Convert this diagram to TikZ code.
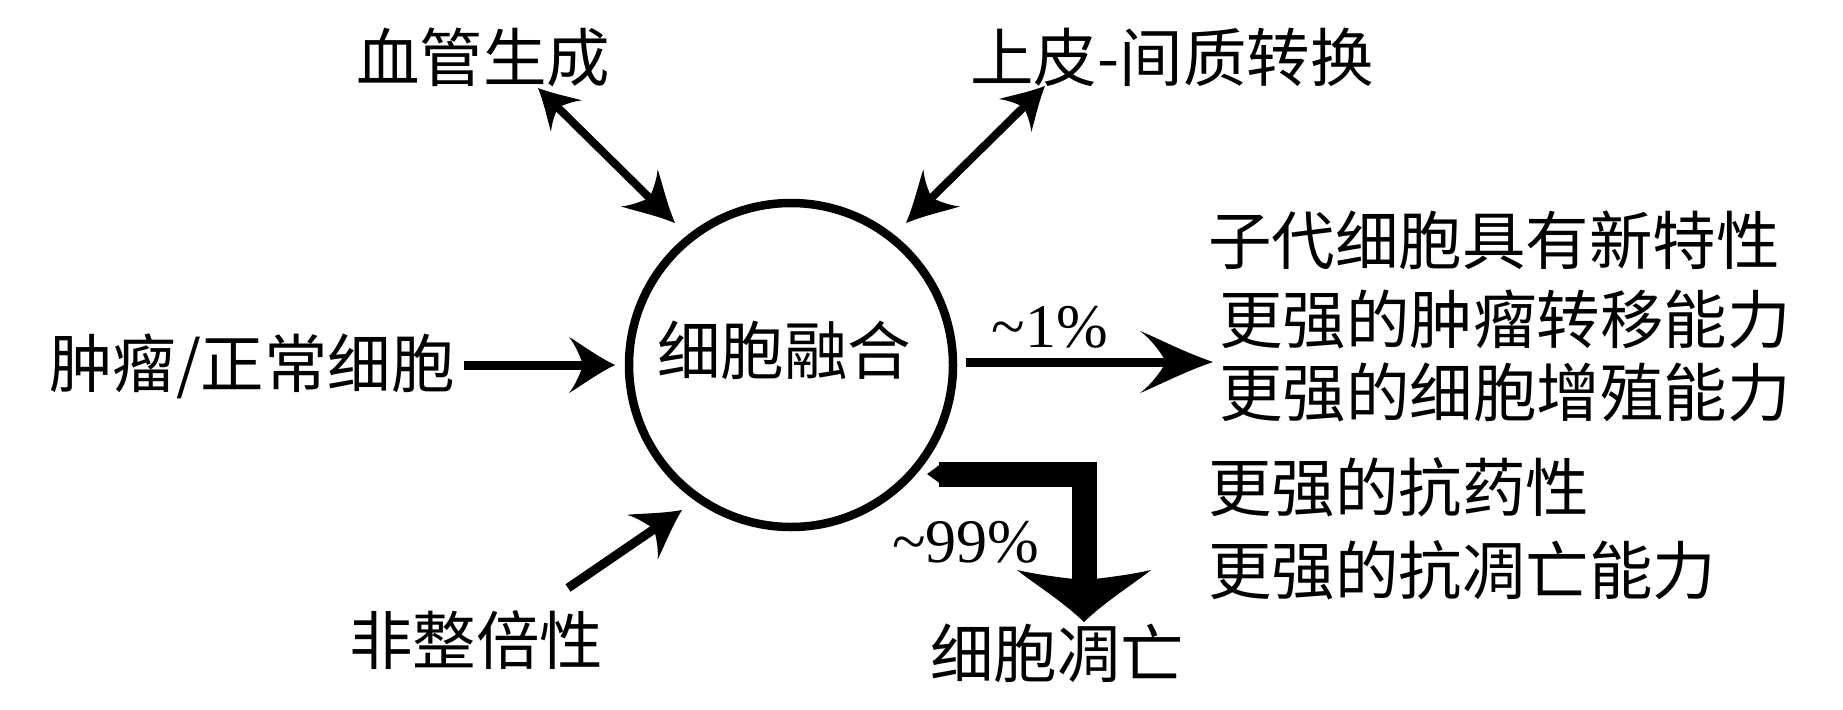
\documentclass[tikz,border=0pt]{standalone}
\usepackage{fontspec}
\setmainfont{Liberation Serif}
\newfontfamily\cjk{Noto Sans CJK SC}
\usetikzlibrary{arrows.meta}
\pgfdeclarearrow{
  name = CurvedStealth,
  defaults = {length=20pt, width=20pt, inset=6pt},
  parameters = {\the\pgfarrowlength,\the\pgfarrowwidth,\the\pgfarrowinset},
  setup code = {
    \pgfarrowssettipend{\pgfarrowlength}
    \pgfarrowssetbackend{0pt}
    \pgfarrowssetlineend{\pgfarrowinset}
    \pgfarrowsupperhullpoint{\pgfarrowlength}{0pt}
    \pgfarrowsupperhullpoint{0pt}{.5\pgfarrowwidth}
    \pgfarrowssavethe\pgfarrowlength
    \pgfarrowssavethe\pgfarrowwidth
    \pgfarrowssavethe\pgfarrowinset
  },
  drawing code = {
    \pgfpathmoveto{\pgfpoint{\pgfarrowlength}{0pt}}
    \pgfpathcurveto{\pgfpoint{0.6\pgfarrowlength}{0.16\pgfarrowwidth}}{\pgfpoint{0.25\pgfarrowlength}{0.38\pgfarrowwidth}}{\pgfpoint{0pt}{0.5\pgfarrowwidth}}
    \pgfpathcurveto{\pgfpoint{0.5\pgfarrowinset}{0.34\pgfarrowwidth}}{\pgfpoint{0.85\pgfarrowinset}{0.12\pgfarrowwidth}}{\pgfpoint{\pgfarrowinset}{0pt}}
    \pgfpathcurveto{\pgfpoint{0.85\pgfarrowinset}{-0.12\pgfarrowwidth}}{\pgfpoint{0.5\pgfarrowinset}{-0.34\pgfarrowwidth}}{\pgfpoint{0pt}{-0.5\pgfarrowwidth}}
    \pgfpathcurveto{\pgfpoint{0.25\pgfarrowlength}{-0.38\pgfarrowwidth}}{\pgfpoint{0.6\pgfarrowlength}{-0.16\pgfarrowwidth}}{\pgfpoint{\pgfarrowlength}{0pt}}
    \pgfpathclose
    \pgfusepathqfill
  }
}
\tikzset{
  txt/.style={inner sep=0pt, font=\fontsize{63.5}{72}\selectfont\cjk},
  lat/.style={inner sep=0pt, font=\fontsize{62}{72}\selectfont},
  thin/.style={line width=8pt},
  medium/.style={line width=9pt},
}
\begin{document}
\begin{tikzpicture}[x=1pt,y=-1pt]
\path[use as bounding box] (0,0) rectangle (1843,709);
% nodes
\node[circle, draw, line width=8.5pt, minimum size=324pt, inner sep=0pt] (fusion) at (791,365) {};
\node[txt] (fusionlabel) at (784,350) {细胞融合};
\node[txt] (ang) at (483,57) {血管生成};
\node[txt] (emt) at (1172,57) {上皮-间质转换};
\node[txt] (cells) at (252,366) {肿瘤/正常细胞};
\node[txt] (aneu) at (476,640) {非整倍性};
\node[lat] (p1) at (1050,327) {\textasciitilde 1\%};
\node[lat] (p99) at (966,542) {\textasciitilde 99\%};
\node[txt] (death) at (1057,653) {细胞凋亡};
\node[txt, anchor=west] (l1) at (1208,240) {子代细胞具有新特性};
\node[txt, anchor=west] (l2) at (1219,319) {更强的肿瘤转移能力};
\node[txt, anchor=west] (l3) at (1219,392) {更强的细胞增殖能力};
\node[txt, anchor=west] (l4) at (1208,487) {更强的抗药性};
\node[txt, anchor=west] (l5) at (1208,570) {更强的抗凋亡能力};
% connector ends
\coordinate (a1s) at (538,88);
\coordinate (a1e) at (675,223);
\coordinate (a2s) at (1045,86);
\coordinate (a2e) at (906,223);
\coordinate (a3s) at (464,365);
\coordinate (a3e) at (615,365);
\coordinate (a4s) at (568,588);
\coordinate (a4e) at (682,510);
\coordinate (a5s) at (966,362);
\coordinate (a5e) at (1213,362);
\coordinate (b0) at (927,474);
\coordinate (b1) at (1084,622);
% connectors
\draw[thin, {CurvedStealth[length=40pt,width=44pt,inset=12pt]}-{CurvedStealth[length=50pt,width=52pt,inset=14pt]}] (a1s) -- (a1e);
\draw[thin, {CurvedStealth[length=42pt,width=46pt,inset=12pt]}-{CurvedStealth[length=50pt,width=52pt,inset=14pt]}] (a2s) -- (a2e);
\draw[medium, -{CurvedStealth[length=46pt,width=56pt,inset=14pt]}] (a3s) -- (a3e);
\draw[medium, -{CurvedStealth[length=48pt,width=54pt,inset=14pt]}] (a4s) -- (a4e);
\draw[medium, -{CurvedStealth[length=73pt,width=62pt,inset=26pt]}] (a5s) -- (a5e);
\draw[line width=25pt, line join=miter, {Triangle[length=13pt,width=18pt]}-{CurvedStealth[length=52pt,width=134pt,inset=10pt]}] (b0) -| (b1);
\end{tikzpicture}
\end{document}
